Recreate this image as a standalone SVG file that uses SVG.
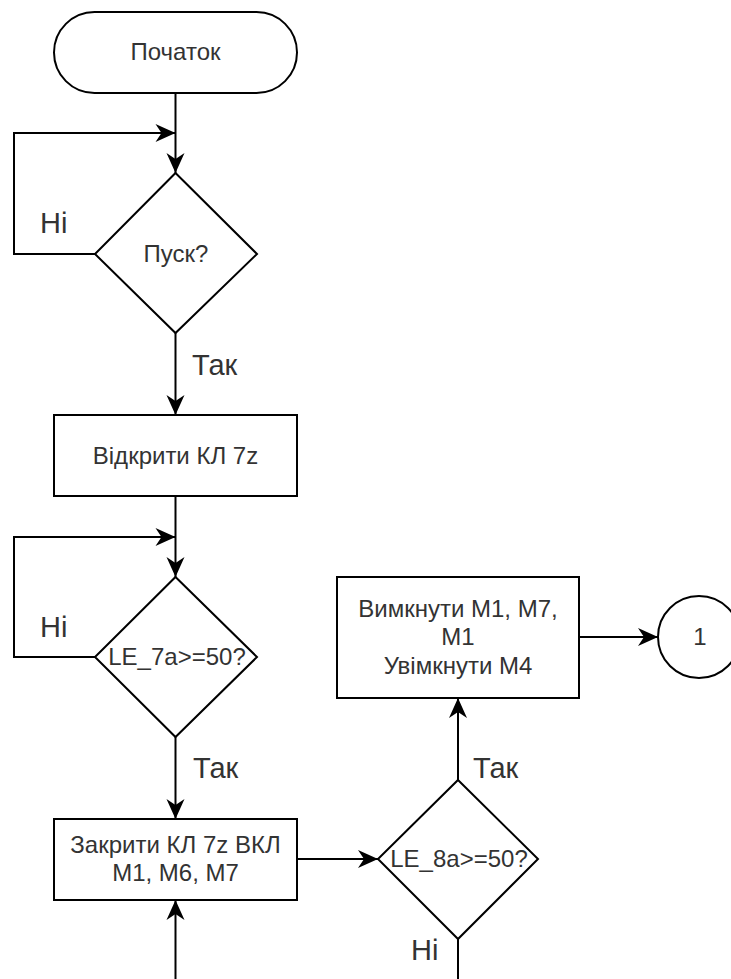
<svg xmlns="http://www.w3.org/2000/svg" width="731" height="979" viewBox="0 0 731 979">
  <defs>
    <marker id="arrow" viewBox="-21 -10 22 20" refX="0" refY="0" markerWidth="22" markerHeight="20" markerUnits="userSpaceOnUse" orient="auto">
      <path d="M0,0 L-20,-9 L-14,0 L-20,9 Z" fill="#000"/>
    </marker>
    <style>
      .shape { fill: #fff; stroke: #000; stroke-width: 2; }
      .node-text { font-family: "Liberation Sans", Arial, sans-serif; font-size: 24px; fill: #333; text-anchor: middle; }
      .label { font-family: "Liberation Sans", Arial, sans-serif; font-size: 29px; fill: #333; }
      .edge { fill: none; stroke: #000; stroke-width: 2; }
      .edge-arrow { fill: none; stroke: #000; stroke-width: 2; marker-end: url(#arrow); }
    </style>
  </defs>
  <rect width="731" height="979" fill="#fff"/>

  <!-- connectors -->
  <g id="connectors">
    <path class="edge-arrow" d="M175.5,93 L175.5,173"/>
    <path class="edge-arrow" d="M95,254 L14,254 L14,133 L175.5,133"/>
    <path class="edge-arrow" d="M175.5,333 L175.5,415"/>
    <path class="edge-arrow" d="M175.5,496 L175.5,577"/>
    <path class="edge-arrow" d="M95,657 L14,657 L14,537 L175.5,537"/>
    <path class="edge-arrow" d="M175.5,737 L175.5,819"/>
    <path class="edge-arrow" d="M175.5,979 L175.5,900"/>
    <path class="edge-arrow" d="M297,859 L378,859"/>
    <path class="edge-arrow" d="M458,780 L458,698"/>
    <path class="edge-arrow" d="M579,637 L658,637"/>
    <path class="edge" d="M458,939 L458,979"/>
  </g>

  <!-- edge labels -->
  <g id="edge-labels">
    <text class="label" x="40" y="233">Ні</text>
    <text class="label" x="192" y="375">Так</text>
    <text class="label" x="40" y="637">Ні</text>
    <text class="label" x="193" y="778">Так</text>
    <text class="label" x="473" y="778">Так</text>
    <text class="label" x="411" y="960">Ні</text>
  </g>

  <g id="start">
    <rect class="shape" x="54" y="12" width="243" height="81" rx="40.5" ry="40.5"/>
    <text class="node-text" x="175.5" y="60">Початок</text>
  </g>

  <g id="check-start">
    <polygon class="shape" points="175.5,173 257,254 175.5,333 95,254"/>
    <text class="node-text" x="176" y="262">Пуск?</text>
  </g>

  <g id="open-valve">
    <rect class="shape" x="54" y="415" width="243" height="81"/>
    <text class="node-text" x="175.5" y="464">Відкрити КЛ 7z</text>
  </g>

  <g id="check-le7a">
    <polygon class="shape" points="175.5,577 257,657 175.5,737 95,657"/>
    <text class="node-text" x="177" y="665">LE_7a&gt;=50?</text>
  </g>

  <g id="close-valve">
    <rect class="shape" x="54" y="819" width="243" height="81"/>
    <text class="node-text" x="175.5" y="853">Закрити КЛ 7z ВКЛ</text>
    <text class="node-text" x="175.5" y="881">М1, М6, М7</text>
  </g>

  <g id="check-le8a">
    <polygon class="shape" points="458,780 538,859 458,939 378,859"/>
    <text class="node-text" x="459" y="867">LE_8a&gt;=50?</text>
  </g>

  <g id="switch-motors">
    <rect class="shape" x="337" y="577" width="242" height="121"/>
    <text class="node-text" x="458" y="617">Вимкнути М1, М7,</text>
    <text class="node-text" x="458" y="645">М1</text>
    <text class="node-text" x="458" y="674">Увімкнути М4</text>
  </g>

  <g id="connector-1">
    <circle class="shape" cx="699" cy="637" r="41"/>
    <text class="node-text" x="700" y="645">1</text>
  </g>
</svg>
